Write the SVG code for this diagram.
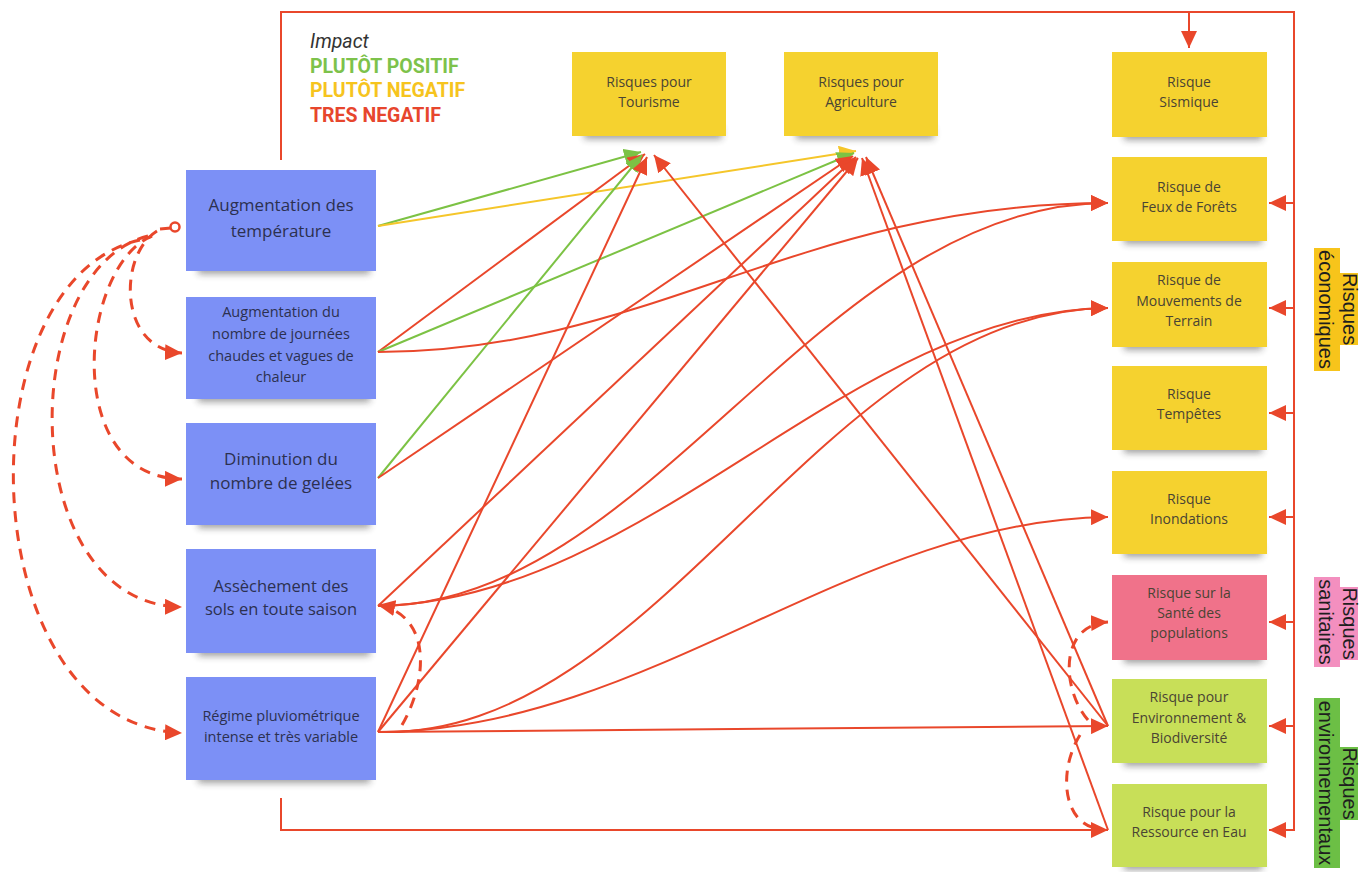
<svg xmlns="http://www.w3.org/2000/svg" width="1363" height="872" viewBox="0 0 1363 872">
  <style>
    .blue{fill:#7c90f6}
    .yel{fill:#f5d22f}
    .pink{fill:#f0728a}
    .lg{fill:#c8df58}
    .sh{fill:#2a2a2a;opacity:.45;filter:url(#soft)}
    .nt{font-family:"Open Sans","Noto Sans",sans-serif;text-anchor:middle}
    .lt{fill:#2c3050}
    .rt{fill:#4a4434;font-size:14px}
    .c{fill:none;stroke-width:2}
    .r{stroke:#e9472b}
    .g{stroke:#7cc244}
    .y{stroke:#f5c62a}
    .d{fill:none;stroke:#e9472b;stroke-width:3;stroke-dasharray:11 8}
    .lab{font-family:"Liberation Sans",Arial,sans-serif;font-size:20px;fill:#1e1e1e;text-anchor:middle}
    .leg{font-family:Roboto,"Liberation Sans",sans-serif;font-size:19.5px}
  </style>
  <defs>
    <filter id="soft" x="-20%" y="-100%" width="140%" height="300%">
      <feGaussianBlur stdDeviation="3.5"/>
    </filter>
    <marker id="ar" markerUnits="userSpaceOnUse" markerWidth="17" markerHeight="16" refX="17" refY="8" orient="auto">
      <path d="M0,0 L17,8 L0,16 z" fill="#e9472b"/>
    </marker>
    <marker id="ag" markerUnits="userSpaceOnUse" markerWidth="17" markerHeight="16" refX="17" refY="8" orient="auto">
      <path d="M0,0 L17,8 L0,16 z" fill="#7cc244"/>
    </marker>
    <marker id="ay" markerUnits="userSpaceOnUse" markerWidth="17" markerHeight="16" refX="17" refY="8" orient="auto">
      <path d="M0,0 L17,8 L0,16 z" fill="#f5c62a"/>
    </marker>
  </defs>

  <rect width="1363" height="872" fill="#ffffff"/>

  <!-- legend -->
  <g id="legend" class="leg">
    <text x="310" y="48" font-style="italic" fill="#333333">Impact</text>
    <text x="310" y="73" font-weight="bold" fill="#7dc24b">PLUTÔT POSITIF</text>
    <text x="310" y="97" font-weight="bold" fill="#f6c41e">PLUTÔT NEGATIF</text>
    <text x="310" y="122" font-weight="bold" fill="#e7462d">TRES NEGATIF</text>
  </g>

  <!-- causes (left column) -->
  <g id="n-temperature">
    <rect class="sh" x="198" y="262" width="172" height="12"/>
    <rect class="blue" x="186" y="170" width="190" height="101"/>
    <text class="nt lt" font-size="17"><tspan x="281" y="211">Augmentation des</tspan><tspan x="281" y="237">température</tspan></text>
  </g>
  <g id="n-chaleur">
    <rect class="sh" x="198" y="390" width="172" height="12"/>
    <rect class="blue" x="186" y="297" width="190" height="102"/>
    <text class="nt lt" font-size="14.5"><tspan x="281" y="317">Augmentation du</tspan><tspan x="281" y="339">nombre de journées</tspan><tspan x="281" y="361">chaudes et vagues de</tspan><tspan x="281" y="382">chaleur</tspan></text>
  </g>
  <g id="n-gelees">
    <rect class="sh" x="198" y="516" width="172" height="12"/>
    <rect class="blue" x="186" y="423" width="190" height="102"/>
    <text class="nt lt" font-size="17"><tspan x="281" y="465">Diminution du</tspan><tspan x="281" y="489">nombre de gelées</tspan></text>
  </g>
  <g id="n-assechement">
    <rect class="sh" x="198" y="644" width="172" height="12"/>
    <rect class="blue" x="186" y="549" width="190" height="104"/>
    <text class="nt lt" font-size="16.5"><tspan x="281" y="592">Assèchement des</tspan><tspan x="281" y="615">sols en toute saison</tspan></text>
  </g>
  <g id="n-pluvio">
    <rect class="sh" x="198" y="771" width="172" height="12"/>
    <rect class="blue" x="186" y="677" width="190" height="103"/>
    <text class="nt lt" font-size="14.5"><tspan x="281" y="721">Régime pluviométrique</tspan><tspan x="281" y="742">intense et très variable</tspan></text>
  </g>

  <!-- sector risks (top) -->
  <g id="n-tourisme">
    <rect class="sh" x="584" y="127" width="138" height="12"/>
    <rect class="yel" x="572" y="52" width="154" height="84"/>
    <text class="nt rt"><tspan x="649" y="87">Risques pour</tspan><tspan x="649" y="107">Tourisme</tspan></text>
  </g>
  <g id="n-agriculture">
    <rect class="sh" x="796" y="127" width="138" height="12"/>
    <rect class="yel" x="784" y="52" width="154" height="84"/>
    <text class="nt rt"><tspan x="861" y="87">Risques pour</tspan><tspan x="861" y="107">Agriculture</tspan></text>
  </g>

  <!-- risks (right column) -->
  <g id="n-sismique">
    <rect class="sh" x="1124" y="128" width="138" height="12"/>
    <rect class="yel" x="1112" y="52" width="155" height="85"/>
    <text class="nt rt"><tspan x="1189" y="87">Risque</tspan><tspan x="1189" y="107">Sismique</tspan></text>
  </g>
  <g id="n-feux">
    <rect class="sh" x="1124" y="232" width="138" height="12"/>
    <rect class="yel" x="1112" y="157" width="155" height="84"/>
    <text class="nt rt"><tspan x="1189" y="192">Risque de</tspan><tspan x="1189" y="212">Feux de Forêts</tspan></text>
  </g>
  <g id="n-mouvements">
    <rect class="sh" x="1124" y="338" width="138" height="12"/>
    <rect class="yel" x="1112" y="262" width="155" height="85"/>
    <text class="nt rt"><tspan x="1189" y="285">Risque de</tspan><tspan x="1189" y="306">Mouvements de</tspan><tspan x="1189" y="326">Terrain</tspan></text>
  </g>
  <g id="n-tempetes">
    <rect class="sh" x="1124" y="441" width="138" height="12"/>
    <rect class="yel" x="1112" y="366" width="155" height="84"/>
    <text class="nt rt"><tspan x="1189" y="399">Risque</tspan><tspan x="1189" y="419">Tempêtes</tspan></text>
  </g>
  <g id="n-inondations">
    <rect class="sh" x="1124" y="545" width="138" height="12"/>
    <rect class="yel" x="1112" y="471" width="155" height="83"/>
    <text class="nt rt"><tspan x="1189" y="504">Risque</tspan><tspan x="1189" y="524">Inondations</tspan></text>
  </g>
  <g id="n-sante">
    <rect class="sh" x="1124" y="651" width="138" height="12"/>
    <rect class="pink" x="1112" y="575" width="155" height="85"/>
    <text class="nt rt"><tspan x="1189" y="598">Risque sur la</tspan><tspan x="1189" y="618">Santé des</tspan><tspan x="1189" y="638">populations</tspan></text>
  </g>
  <g id="n-environnement">
    <rect class="sh" x="1124" y="754" width="138" height="12"/>
    <rect class="lg" x="1112" y="679" width="155" height="84"/>
    <text class="nt rt"><tspan x="1189" y="702">Risque pour</tspan><tspan x="1189" y="723">Environnement &amp;</tspan><tspan x="1189" y="743">Biodiversité</tspan></text>
  </g>
  <g id="n-eau">
    <rect class="sh" x="1124" y="858" width="138" height="12"/>
    <rect class="lg" x="1112" y="784" width="155" height="83"/>
    <text class="nt rt"><tspan x="1189" y="817">Risque pour la</tspan><tspan x="1189" y="837">Ressource en Eau</tspan></text>
  </g>

  <!-- category labels -->
  <g id="cat-economiques">
    <rect x="1340" y="273" width="18" height="72" fill="#f7c41b"/>
    <rect x="1314" y="248" width="26" height="123" fill="#f7c41b"/>
    <text class="lab" transform="translate(1343,309) rotate(90)">Risques</text>
    <text class="lab" transform="translate(1319,309.5) rotate(90)">économiques</text>
  </g>
  <g id="cat-sanitaires">
    <rect x="1340" y="587" width="18" height="73" fill="#f38fbf"/>
    <rect x="1314" y="577" width="26" height="90" fill="#f38fbf"/>
    <text class="lab" transform="translate(1343,623.5) rotate(90)">Risques</text>
    <text class="lab" transform="translate(1319,622) rotate(90)">sanitaires</text>
  </g>
  <g id="cat-environnementaux">
    <rect x="1340" y="747" width="18" height="73" fill="#6cbf45"/>
    <rect x="1314" y="698" width="26" height="170" fill="#6cbf45"/>
    <text class="lab" transform="translate(1343,783.5) rotate(90)">Risques</text>
    <text class="lab" transform="translate(1319,783) rotate(90)">environnementaux</text>
  </g>

  <!-- connectors -->
  <g id="connectors">
    <!-- frame around the whole system -->
    <path class="c r" d="M281,160 V12 H1294 V830 H1269" marker-end="url(#ar)"/>
    <path class="c r" d="M1189,12 V48" marker-end="url(#ar)"/>
    <path class="c r" d="M1294,203 H1269" marker-end="url(#ar)"/>
    <path class="c r" d="M1294,308 H1269" marker-end="url(#ar)"/>
    <path class="c r" d="M1294,413 H1269" marker-end="url(#ar)"/>
    <path class="c r" d="M1294,517 H1269" marker-end="url(#ar)"/>
    <path class="c r" d="M1294,622 H1269" marker-end="url(#ar)"/>
    <path class="c r" d="M1294,726 H1269" marker-end="url(#ar)"/>
    <path class="c r" d="M281,798 V830 H1108" marker-end="url(#ar)"/>

    <!-- causes to sector risks -->
    <path class="c g" d="M378,226 L641,152" marker-end="url(#ag)"/>
    <path class="c y" d="M378,226 L856,151" marker-end="url(#ay)"/>
    <path class="c r" d="M378,352 L645,154" marker-end="url(#ar)"/>
    <path class="c g" d="M378,352 L854,153" marker-end="url(#ag)"/>
    <path class="c g" d="M378,478 L642,155" marker-end="url(#ag)"/>
    <path class="c r" d="M378,478 L853,156" marker-end="url(#ar)"/>
    <path class="c r" d="M378,606 L856,157" marker-end="url(#ar)"/>
    <path class="c r" d="M378,732 L647,157" marker-end="url(#ar)"/>
    <path class="c r" d="M378,732 L858,158" marker-end="url(#ar)"/>
    <path class="c r" d="M1108,726 L654,155" marker-end="url(#ar)"/>
    <path class="c r" d="M1108,726 L866,157" marker-end="url(#ar)"/>
    <path class="c r" d="M1108,830 L862,158" marker-end="url(#ar)"/>

    <!-- causes to natural risks -->
    <path class="c r" d="M378,732 L1108,726" marker-end="url(#ar)"/>
    <path class="c r" d="M378,352 C650,352 800,203 1108,203" marker-end="url(#ar)"/>
    <path class="c r" d="M378,606 C650,606 820,203 1108,203" marker-end="url(#ar)"/>
    <path class="c r" d="M378,606 C650,600 850,310 1108,308" marker-end="url(#ar)"/>
    <path class="c r" d="M378,732 C660,740 820,310 1108,308" marker-end="url(#ar)"/>
    <path class="c r" d="M378,732 C650,730 850,520 1108,517" marker-end="url(#ar)"/>

    <!-- cascade from rising temperature -->
    <line x1="160" y1="229" x2="171" y2="228" stroke="#e9472b" stroke-width="3"/>
    <circle cx="175" cy="227" r="4.5" fill="#ffffff" stroke="#e9472b" stroke-width="2.5"/>
    <path class="d" d="M157,231 C118,255 118,350 182,353" marker-end="url(#ar)"/>
    <path class="d" d="M152,236 C80,265 60,478 182,479" marker-end="url(#ar)"/>
    <path class="d" d="M148,236 C15,270 15,605 182,607" marker-end="url(#ar)"/>
    <path class="d" d="M140,240 C-40,280 -30,725 182,733" marker-end="url(#ar)"/>

    <!-- rainfall feeding soil drying -->
    <path class="d" d="M402,725 C428,680 432,615 378,605" marker-end="url(#ar)"/>

    <!-- environment links -->
    <path class="d" d="M1088,720 C1062,690 1058,625 1108,622" marker-end="url(#ar)"/>
    <path class="d" d="M1080,735 C1058,770 1062,825 1100,829"/>
  </g>
</svg>
